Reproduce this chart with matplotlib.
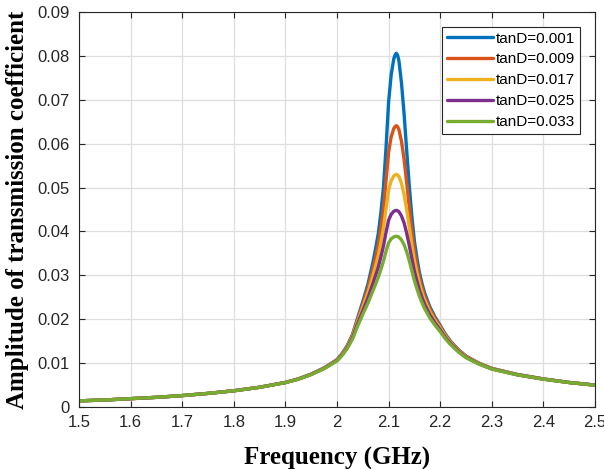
import matplotlib
matplotlib.use('Agg')
import matplotlib.pyplot as plt
from matplotlib.ticker import FormatStrFormatter

# frequency points (GHz)
freq = [1.50, 1.55, 1.60, 1.65, 1.70, 1.75, 1.80, 1.85, 1.90, 1.925,
        1.95, 1.975, 2.00, 2.01, 2.02, 2.03, 2.04, 2.05, 2.06, 2.07,
        2.075, 2.08, 2.085, 2.09, 2.095, 2.10, 2.105, 2.11, 2.1125, 2.115,
        2.1175, 2.12, 2.125, 2.13, 2.135, 2.14, 2.145, 2.15, 2.155, 2.16,
        2.165, 2.17, 2.18, 2.19, 2.20, 2.21, 2.22, 2.235, 2.25, 2.275,
        2.30, 2.35, 2.40, 2.45, 2.50]

# amplitude of transmission coefficient for each tanD
tan_001 = [0.0014, 0.0016, 0.0019, 0.0022, 0.0026, 0.0031, 0.0037, 0.0045, 0.0056, 0.0064,
           0.0075, 0.0089, 0.0108, 0.0122, 0.0140, 0.0165, 0.0203, 0.0240, 0.0280, 0.0332,
           0.0362, 0.0395, 0.0442, 0.0500, 0.0590, 0.0695, 0.0757, 0.0793, 0.0802, 0.0806,
           0.0801, 0.0789, 0.0738, 0.0668, 0.0585, 0.0505, 0.0435, 0.0378, 0.0338, 0.0305,
           0.0280, 0.0259, 0.0228, 0.0205, 0.0186, 0.0166, 0.0150, 0.0131, 0.0116, 0.0100,
           0.0088, 0.0074, 0.0064, 0.0056, 0.0050]
tan_009 = [0.0014, 0.0016, 0.0019, 0.0022, 0.0026, 0.0031, 0.0037, 0.0045, 0.00559, 0.00639,
           0.00748, 0.00887, 0.01074, 0.01212, 0.01388, 0.01630, 0.01994, 0.02340, 0.02707, 0.03168,
           0.03425, 0.03700, 0.04078, 0.04520, 0.05152, 0.05808, 0.06155, 0.06344, 0.06389, 0.0641,
           0.06384, 0.06323, 0.06051, 0.05647, 0.05118, 0.04557, 0.04023, 0.03559, 0.03220, 0.02930,
           0.02707, 0.02516, 0.02229, 0.02013, 0.01832, 0.01640, 0.01485, 0.01300, 0.01153, 0.00996,
           0.00877, 0.00738, 0.00639, 0.00559, 0.00499]
tan_017 = [0.0014, 0.0016, 0.0019, 0.0022, 0.0026, 0.0031, 0.0037, 0.0045, 0.00558, 0.00637,
           0.00746, 0.00883, 0.01068, 0.01202, 0.01373, 0.01606, 0.01950, 0.02272, 0.02602, 0.03003,
           0.03219, 0.03444, 0.03742, 0.04075, 0.04520, 0.04944, 0.05153, 0.05262, 0.05288, 0.0530,
           0.05285, 0.05251, 0.05092, 0.04844, 0.04498, 0.04102, 0.03700, 0.03330, 0.03047, 0.02798,
           0.02602, 0.02431, 0.02169, 0.01968, 0.01798, 0.01616, 0.01467, 0.01288, 0.01145, 0.00990,
           0.00873, 0.00736, 0.00637, 0.00558, 0.00499]
tan_025 = [0.0014, 0.0016, 0.0019, 0.0022, 0.0026, 0.0031, 0.0037, 0.00449, 0.00557, 0.00635,
           0.00743, 0.00878, 0.01059, 0.01190, 0.01355, 0.01578, 0.01900, 0.02193, 0.02485, 0.02827,
           0.03005, 0.03186, 0.03418, 0.03665, 0.03979, 0.04259, 0.04390, 0.04458, 0.04473, 0.0448,
           0.04471, 0.04450, 0.04352, 0.04194, 0.03964, 0.03685, 0.03385, 0.03095, 0.02864, 0.02654,
           0.02485, 0.02335, 0.02100, 0.01916, 0.01758, 0.01586, 0.01445, 0.01273, 0.01134, 0.00983,
           0.00868, 0.00733, 0.00635, 0.00557, 0.00498]
tan_033 = [0.0014, 0.0016, 0.0019, 0.0022, 0.0026, 0.0031, 0.00369, 0.00448, 0.00556, 0.00633,
           0.00739, 0.00872, 0.01049, 0.01176, 0.01335, 0.01547, 0.01846, 0.02112, 0.02369, 0.02659,
           0.02806, 0.02952, 0.03133, 0.03321, 0.03548, 0.03742, 0.03831, 0.03875, 0.03885, 0.0389,
           0.03884, 0.03870, 0.03805, 0.03698, 0.03537, 0.03335, 0.03108, 0.02879, 0.02690, 0.02514,
           0.02369, 0.02237, 0.02028, 0.01861, 0.01716, 0.01555, 0.01421, 0.01257, 0.01122, 0.00976,
           0.00863, 0.00730, 0.00633, 0.00556, 0.00497]

labels = ['tanD=0.001', 'tanD=0.009', 'tanD=0.017', 'tanD=0.025', 'tanD=0.033']
series = [tan_001, tan_009, tan_017, tan_025, tan_033]
colors = ['#0072BD', '#D95319', '#EDB120', '#7E2F8E', '#77AC30']

fig = plt.figure(figsize=(6.04, 4.69), dpi=100)
ax = fig.add_axes([79 / 604, 1 - 407 / 469, (595 - 79) / 604, (407 - 12) / 469])

for ys, lab, c in zip(series, labels, colors):
    ax.plot(freq, ys, color=c, lw=2.4, label=lab,
            solid_joinstyle='round', solid_capstyle='round')

ax.set_xlim(1.5, 2.5)
ax.set_ylim(0, 0.09)
ax.set_xticks([1.5, 1.6, 1.7, 1.8, 1.9, 2.0, 2.1, 2.2, 2.3, 2.4, 2.5])
ax.set_yticks([0, 0.01, 0.02, 0.03, 0.04, 0.05, 0.06, 0.07, 0.08, 0.09])
ax.xaxis.set_major_formatter(FormatStrFormatter('%g'))
ax.yaxis.set_major_formatter(FormatStrFormatter('%g'))
ax.grid(True, color='#dedede', lw=0.9)
ax.set_axisbelow(True)

ax.tick_params(direction='in', top=True, right=True, length=4, width=0.8,
               colors='#262626', labelsize=12)
ax.tick_params(axis='y', pad=7)
ax.tick_params(axis='x', pad=6)
for lbl in ax.get_xticklabels() + ax.get_yticklabels():
    lbl.set_family('Liberation Sans')
for sp in ax.spines.values():
    sp.set_color('#262626')
    sp.set_linewidth(0.8)

ax.set_xlabel('Frequency (GHz)', family='Liberation Serif', weight='bold',
              fontsize=18, labelpad=12)
ax.set_ylabel('Amplitude of transmission coefficient', family='Liberation Serif',
              weight='bold', fontsize=18, labelpad=6)

leg = ax.legend(loc='upper right', bbox_to_anchor=(0.97, 0.962),
                prop={'family': 'Liberation Sans', 'size': 11},
                fancybox=False, framealpha=1, edgecolor='#262626',
                handlelength=3.0, handletextpad=0.2, labelspacing=0.45,
                borderpad=0.3, borderaxespad=0)
leg.get_frame().set_linewidth(0.8)

fig.savefig('out.png', dpi=100)
